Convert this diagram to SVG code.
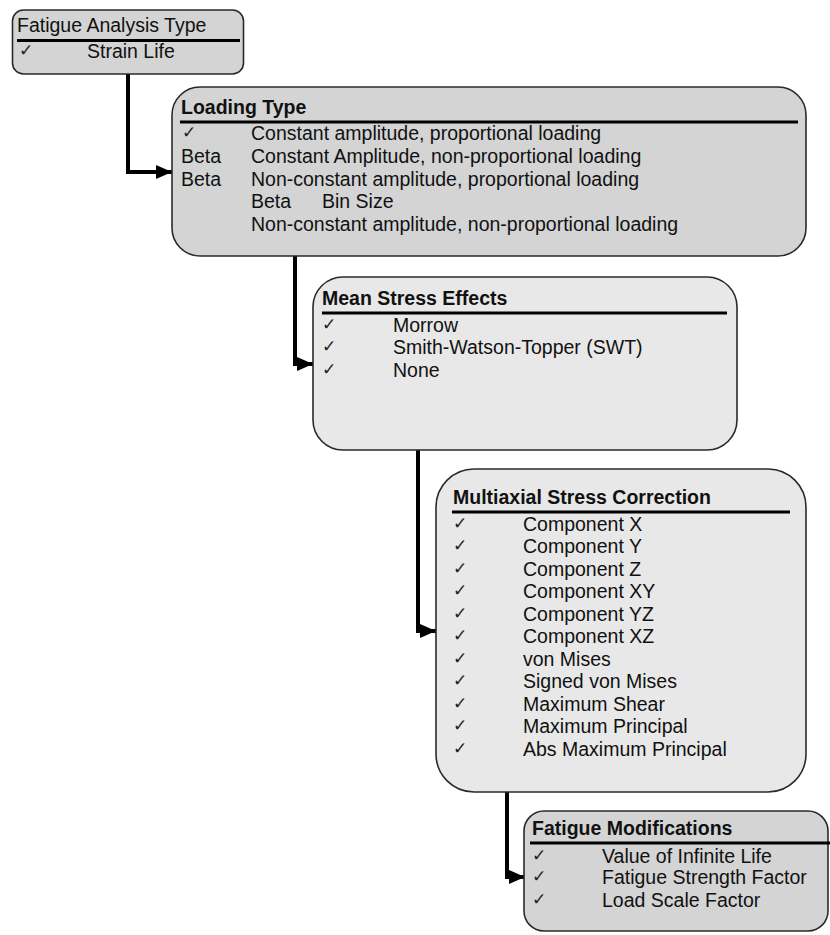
<svg xmlns="http://www.w3.org/2000/svg" width="830" height="935" viewBox="0 0 830 935">
<style>
.dark{fill:#d4d4d4;stroke:#2a2a2a;stroke-width:1.6}
.light{fill:#e8e8e8;stroke:#2a2a2a;stroke-width:1.6}
.rule{stroke:#000;stroke-width:3}
.t{font-family:"Liberation Sans",Arial,sans-serif;font-size:19.5px;fill:#111}
.b{font-weight:bold}
.ck{font-family:"DejaVu Sans",sans-serif;font-size:17px;fill:#222}
.conn{fill:none;stroke:#000;stroke-width:4}
</style>
<defs>
<marker id="ah" markerUnits="userSpaceOnUse" markerWidth="16" markerHeight="14" viewBox="0 0 16 14" refX="16" refY="7" orient="auto">
<path d="M0,0 L16,7 L0,14 z" fill="#000"/>
</marker>
</defs>
<rect width="830" height="935" fill="#fff"/>
<g id="connectors">
<path class="conn" d="M128,73 V172 H172" marker-end="url(#ah)"/>
<path class="conn" d="M295,256 V364 H313" marker-end="url(#ah)"/>
<path class="conn" d="M418,450 V631 H436" marker-end="url(#ah)"/>
<path class="conn" d="M507,792 V877 H525" marker-end="url(#ah)"/>
</g>
<g id="fatigue-analysis-type">
<rect class="dark" x="12.5" y="10" width="231" height="64" rx="11"/>
<text class="t" x="17" y="32">Fatigue Analysis Type</text>
<line class="rule" x1="17" y1="40.5" x2="240" y2="40.5"/>
<text class="ck" x="19" y="56">✓</text>
<text class="t" x="87" y="58">Strain Life</text>
</g>
<g id="loading-type">
<rect class="dark" x="172" y="87" width="634" height="169" rx="28"/>
<text class="t b" x="181" y="114">Loading Type</text>
<line class="rule" x1="180" y1="122" x2="798" y2="122"/>
<text class="ck" x="182" y="138">✓</text>
<text class="t" x="251" y="140">Constant amplitude, proportional loading</text>
<text class="t" x="181" y="163">Beta</text>
<text class="t" x="251" y="163">Constant Amplitude, non-proportional loading</text>
<text class="t" x="181" y="186">Beta</text>
<text class="t" x="251" y="186">Non-constant amplitude, proportional loading</text>
<text class="t" x="251" y="208">Beta</text>
<text class="t" x="322" y="208">Bin Size</text>
<text class="t" x="251" y="231">Non-constant amplitude, non-proportional loading</text>
</g>
<g id="mean-stress-effects">
<rect class="light" x="313" y="277" width="424" height="173" rx="30"/>
<text class="t b" x="322" y="305">Mean Stress Effects</text>
<line class="rule" x1="322" y1="313" x2="727" y2="313"/>
<text class="ck" x="322" y="330">✓</text>
<text class="t" x="393" y="332">Morrow</text>
<text class="ck" x="322" y="352">✓</text>
<text class="t" x="393" y="354">Smith-Watson-Topper (SWT)</text>
<text class="ck" x="322" y="375">✓</text>
<text class="t" x="393" y="377">None</text>
</g>
<g id="multiaxial-stress-correction">
<rect class="light" x="436" y="469" width="370" height="323" rx="38"/>
<text class="t b" x="453" y="504">Multiaxial Stress Correction</text>
<line class="rule" x1="452" y1="512" x2="790" y2="512"/>
<text class="ck" x="453" y="528.5">✓</text><text class="t" x="523" y="530.5">Component X</text>
<text class="ck" x="453" y="551">✓</text><text class="t" x="523" y="553">Component Y</text>
<text class="ck" x="453" y="573.5">✓</text><text class="t" x="523" y="575.5">Component Z</text>
<text class="ck" x="453" y="596">✓</text><text class="t" x="523" y="598">Component XY</text>
<text class="ck" x="453" y="618.5">✓</text><text class="t" x="523" y="620.5">Component YZ</text>
<text class="ck" x="453" y="641">✓</text><text class="t" x="523" y="643">Component XZ</text>
<text class="ck" x="453" y="663.5">✓</text><text class="t" x="523" y="665.5">von Mises</text>
<text class="ck" x="453" y="686">✓</text><text class="t" x="523" y="688">Signed von Mises</text>
<text class="ck" x="453" y="708.5">✓</text><text class="t" x="523" y="710.5">Maximum Shear</text>
<text class="ck" x="453" y="731">✓</text><text class="t" x="523" y="733">Maximum Principal</text>
<text class="ck" x="453" y="753.5">✓</text><text class="t" x="523" y="755.5">Abs Maximum Principal</text>
</g>
<g id="fatigue-modifications">
<rect class="dark" x="524" y="811" width="304" height="120" rx="20"/>
<text class="t b" x="532" y="835">Fatigue Modifications</text>
<line class="rule" x1="530" y1="843" x2="830" y2="843"/>
<text class="ck" x="532" y="861">✓</text><text class="t" x="602" y="863">Value of Infinite Life</text>
<text class="ck" x="532" y="882">✓</text><text class="t" x="602" y="884">Fatigue Strength Factor</text>
<text class="ck" x="532" y="905">✓</text><text class="t" x="602" y="907">Load Scale Factor</text>
</g>
</svg>
